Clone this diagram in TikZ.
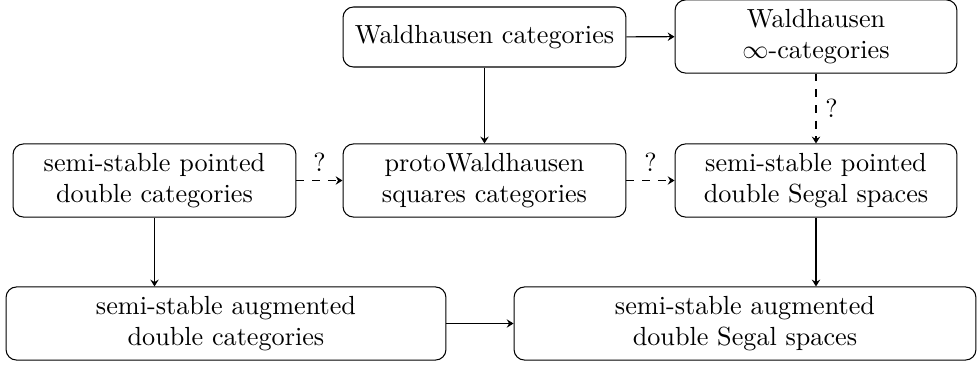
\documentclass[tikz,border=0pt]{standalone}
\usetikzlibrary{arrows.meta}
\begin{document}
\begin{tikzpicture}[x=0.3817pt,y=-0.3817pt,
  box/.style={draw, rounded corners=4pt, align=center, inner sep=2pt},
  arr/.style={-{Stealth[length=2.6pt,width=3.2pt,inset=0.9pt]}},
  darr/.style={arr, dashed}]
\useasboundingbox (0,0) rectangle (978,365);
\node[box, minimum width=108pt, minimum height=22.9pt] (wc) at (484.5,37) {Waldhausen categories};
\node[box, minimum width=107.6pt, minimum height=27.9pt] (winf) at (816,36.5) {Waldhausen\\$\infty$-categories};
\node[box, minimum width=108pt, minimum height=27.9pt] (sspdc) at (154.5,180.5) {semi-stable pointed\\double categories};
\node[box, minimum width=108pt, minimum height=27.9pt] (proto) at (484.5,180.5) {protoWaldhausen\\squares categories};
\node[box, minimum width=107.6pt, minimum height=27.9pt] (sspdss) at (816,180.5) {semi-stable pointed\\double Segal spaces};
\node[box, minimum width=167.9pt, minimum height=27.9pt] (ssadc) at (226,323.5) {semi-stable augmented\\double categories};
\node[box, minimum width=176.3pt, minimum height=27.9pt] (ssadss) at (745,323.5) {semi-stable augmented\\double Segal spaces};
\draw[arr] (wc) -- (winf);
\draw[arr] (wc) -- (proto);
\draw[darr] (winf) -- node[right] {?} (sspdss);
\draw[darr] (sspdc) -- node[above] {?} (proto);
\draw[darr] (proto) -- node[above] {?} (sspdss);
\draw[arr] (sspdc.south) -- (sspdc.south |- ssadc.north);
\draw[arr] (sspdss.south) -- (sspdss.south |- ssadss.north);
\draw[arr] (ssadc) -- (ssadss);
\end{tikzpicture}
\end{document}
